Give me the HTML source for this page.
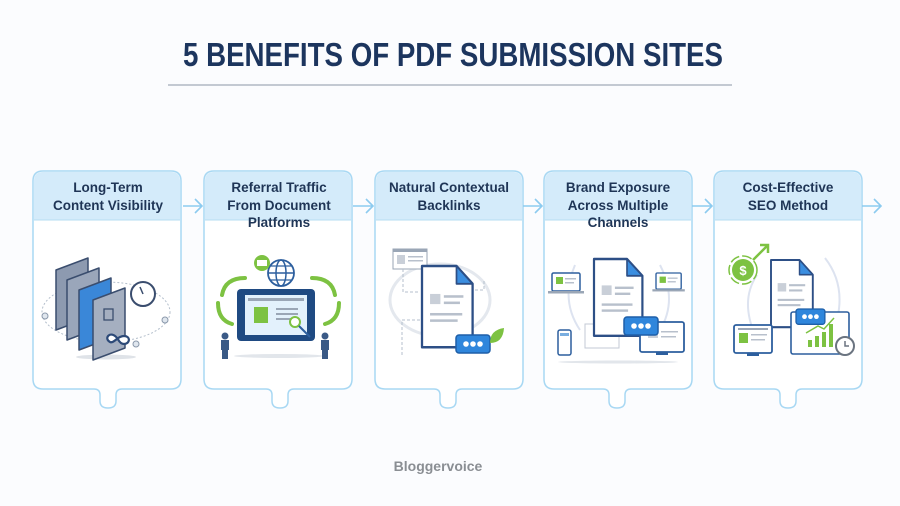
<!DOCTYPE html>
<html><head><meta charset="utf-8"><style>
html,body{margin:0;padding:0;background:#fbfcfe;}
svg{display:block;}
text{font-family:"Liberation Sans",sans-serif;}
</style></head><body>
<svg width="900" height="506" viewBox="0 0 900 506" xmlns="http://www.w3.org/2000/svg">
<rect width="900" height="506" fill="#fbfcfe"/>
<text x="453" y="66" text-anchor="middle" font-size="33" font-weight="bold" fill="#1c355e" textLength="540" lengthAdjust="spacingAndGlyphs">5 BENEFITS OF PDF SUBMISSION SITES</text>
<rect x="168" y="84" width="564" height="2" fill="#c3c9d2"/>

<defs>
<g id="doc">
<path d="M0,0 H30 L44,14 V64 H0 Z" fill="#fff" stroke="#2d4f86" stroke-width="2" stroke-linejoin="round"/>
<path d="M30,0 V14 H44 Z" fill="#3b8ee0" stroke="#2d4f86" stroke-width="1.5" stroke-linejoin="round"/>
<rect x="7" y="22" width="9" height="8" fill="#c9cfd8"/>
<rect x="19" y="23" width="17" height="2" fill="#b8c0cc"/><rect x="19" y="28" width="14" height="2" fill="#b8c0cc"/>
<rect x="7" y="37" width="28" height="2" fill="#b8c0cc"/><rect x="7" y="42" width="24" height="2" fill="#b8c0cc"/>
</g>
<g id="chat">
<rect x="0" y="0" width="34" height="18" rx="3" fill="#2f86dc" stroke="#1e5fa8" stroke-width="1.5"/>
<circle cx="10" cy="9" r="2.8" fill="#fff"/><circle cx="17" cy="9" r="2.8" fill="#fff"/><circle cx="24" cy="9" r="2.8" fill="#fff"/>
</g>
<g id="lap">
<rect x="0" y="0" width="28" height="18" rx="1.5" fill="#fff" stroke="#2d5f9e" stroke-width="1.5"/>
<rect x="4" y="4" width="7" height="7" fill="#7dc242"/>
<rect x="13" y="5" width="11" height="1.5" fill="#b8c0cc"/><rect x="13" y="9" width="9" height="1.5" fill="#b8c0cc"/>
<rect x="-4" y="18" width="36" height="2.5" fill="#9aa6b6"/>
</g>
</defs>

<!-- cards -->
<g fill="#fff" stroke="#a8d8f3" stroke-width="1.5">
<path d="M43,171 H171 Q181,171 181,181 V379 Q181,389 171,389 H122 Q116,389 116,395 V401 Q116,408 108,408 Q100,408 100,401 V395 Q100,389 94,389 H43 Q33,389 33,379 V181 Q33,171 43,171 Z"/>
<path d="M214,171 H342 Q352,171 352,181 V379 Q352,389 342,389 H294 Q288,389 288,395 V401 Q288,408 280,408 Q272,408 272,401 V395 Q272,389 266,389 H214 Q204,389 204,379 V181 Q204,171 214,171 Z"/>
<path d="M385,171 H513 Q523,171 523,181 V379 Q523,389 513,389 H462 Q456,389 456,395 V401 Q456,408 448,408 Q440,408 440,401 V395 Q440,389 434,389 H385 Q375,389 375,379 V181 Q375,171 385,171 Z"/>
<path d="M554,171 H682 Q692,171 692,181 V379 Q692,389 682,389 H631 Q625,389 625,395 V401 Q625,408 617,408 Q609,408 609,401 V395 Q609,389 603,389 H554 Q544,389 544,379 V181 Q544,171 554,171 Z"/>
<path d="M724,171 H852 Q862,171 862,181 V379 Q862,389 852,389 H802 Q796,389 796,395 V401 Q796,408 788,408 Q780,408 780,401 V395 Q780,389 774,389 H724 Q714,389 714,379 V181 Q714,171 724,171 Z"/>
</g>
<g fill="#d4ebfa" stroke="none">
<path d="M34,220 V181 Q34,172 43,172 H171 Q180,172 180,181 V220 Z"/>
<path d="M205,220 V181 Q205,172 214,172 H342 Q351,172 351,181 V220 Z"/>
<path d="M376,220 V181 Q376,172 385,172 H513 Q522,172 522,181 V220 Z"/>
<path d="M545,220 V181 Q545,172 554,172 H682 Q691,172 691,181 V220 Z"/>
<path d="M715,220 V181 Q715,172 724,172 H852 Q861,172 861,181 V220 Z"/>
</g>
<g stroke="#b6dcf2" stroke-width="1"><line x1="34" y1="220" x2="180" y2="220"/><line x1="205" y1="220" x2="351" y2="220"/><line x1="376" y1="220" x2="522" y2="220"/><line x1="545" y1="220" x2="691" y2="220"/><line x1="715" y1="220" x2="861" y2="220"/></g>

<!-- arrows -->
<g fill="none" stroke="#8ccbef" stroke-width="1.6">
<path d="M183,206 H201 M195,199 L202,206 L195,213"/>
<path d="M353,206 H372 M366,199 L373,206 L366,213"/>
<path d="M523,206 H541 M535,199 L542,206 L535,213"/>
<path d="M692,206 H711 M705,199 L712,206 L705,213"/>
<path d="M862,206 H880 M874,199 L881,206 L874,213"/>
</g>

<!-- header text -->
<g font-size="13.5" font-weight="bold" fill="#1f3556" text-anchor="middle">
<text x="108" y="192">Long-Term</text><text x="108" y="210">Content Visibility</text>
<text x="279" y="192">Referral Traffic</text><text x="279" y="210">From Document</text><text x="279" y="227">Platforms</text>
<text x="449" y="192">Natural Contextual</text><text x="449" y="210">Backlinks</text>
<text x="618" y="192">Brand Exposure</text><text x="618" y="210">Across Multiple</text><text x="618" y="227">Channels</text>
<text x="788" y="192">Cost-Effective</text><text x="788" y="210">SEO Method</text>
</g>

<!-- card1 icon -->
<ellipse cx="106" cy="312" rx="64" ry="30" fill="none" stroke="#b4bfcc" stroke-width="1" stroke-dasharray="2,2"/>
<ellipse cx="106" cy="357" rx="30" ry="2.5" fill="#dfe3e8"/>
<g stroke="#3a4d6e" stroke-width="1.5" stroke-linejoin="round">
<path d="M56,270 L88,258 V318 L56,330 Z" fill="#8d9ab0"/>
<path d="M67,280 L99,268 V328 L67,340 Z" fill="#9aa6ba"/>
<path d="M79,290 L111,278 V338 L79,350 Z" fill="#3a87d8"/>
<path d="M93,300 L125,288 V348 L93,360 Z" fill="#a5afc0"/>
</g>
<rect x="104" y="309" width="9" height="11" fill="none" stroke="#3a4d6e" stroke-width="1.3"/>
<path d="M117,338 c-6,-8 -14,0 -7,4 c4,2 7,-6 14,-6 c7,0 6,8 0,8 c-5,0 -6,-6 -7,-6" fill="#fff" stroke="#2d4a78" stroke-width="2.2"/>
<circle cx="143" cy="294" r="12" fill="#fff" stroke="#3a4d6e" stroke-width="2"/>
<line x1="143" y1="294" x2="140" y2="287" stroke="#3a4d6e" stroke-width="1.5"/>
<circle cx="45" cy="316" r="3" fill="#dfe6ee" stroke="#8a98aa"/><circle cx="165" cy="320" r="3" fill="#dfe6ee" stroke="#8a98aa"/><circle cx="136" cy="344" r="3" fill="#dfe6ee" stroke="#8a98aa"/>

<!-- card2 icon -->
<ellipse cx="279" cy="356" rx="45" ry="2" fill="#e2e6eb"/>
<rect x="237" y="289" width="78" height="52" rx="4" fill="#1f4a82"/>
<rect x="245" y="295" width="62" height="40" fill="#e3f1fc"/>
<rect x="248" y="298" width="56" height="3" fill="#9aa6b6"/>
<rect x="254" y="307" width="14" height="16" fill="#7dc242"/>
<rect x="276" y="308" width="22" height="2" fill="#9aa6b6"/><rect x="276" y="313" width="22" height="2" fill="#9aa6b6"/><rect x="276" y="318" width="18" height="2" fill="#9aa6b6"/>
<circle cx="295" cy="322" r="5" fill="#fff" stroke="#7dc242" stroke-width="2"/>
<line x1="299" y1="326" x2="310" y2="337" stroke="#2d5f9e" stroke-width="2"/>
<circle cx="281" cy="273" r="13" fill="#fff" stroke="#2d5f9e" stroke-width="1.8"/>
<ellipse cx="281" cy="273" rx="5" ry="13" fill="none" stroke="#2d5f9e" stroke-width="1.5"/>
<line x1="268" y1="273" x2="294" y2="273" stroke="#2d5f9e" stroke-width="1.5"/>
<line x1="270" y1="266" x2="292" y2="266" stroke="#2d5f9e" stroke-width="1.3"/>
<line x1="270" y1="280" x2="292" y2="280" stroke="#2d5f9e" stroke-width="1.3"/>
<circle cx="262" cy="263" r="8" fill="#7dc242"/><rect x="257" y="260" width="10" height="6" fill="#fff"/>
<g fill="none" stroke="#7dc242" stroke-width="4" stroke-linecap="round">
<path d="M245,278 Q225,278 222,295"/><path d="M218,303 Q218,320 232,324"/>
<path d="M312,278 Q332,278 335,295"/><path d="M339,303 Q339,320 325,324"/>
</g>
<g fill="#3a5a86"><circle cx="225" cy="336" r="3.5"/><rect x="221" y="340" width="8" height="10"/><rect x="222" y="350" width="6" height="9"/>
<circle cx="325" cy="336" r="3.5"/><rect x="321" y="340" width="8" height="10"/><rect x="322" y="350" width="6" height="9"/></g>

<!-- card3 icon -->
<ellipse cx="440" cy="300" rx="50" ry="36" fill="none" stroke="#e4e8ee" stroke-width="3"/>
<rect x="393" y="249" width="34" height="20" fill="#fff" stroke="#9aa6b6"/>
<rect x="393" y="249" width="34" height="3" fill="#9aa6b6"/>
<rect x="397" y="255" width="8" height="9" fill="#c9cfd8"/><rect x="408" y="256" width="15" height="1.5" fill="#b8c0cc"/><rect x="408" y="260" width="15" height="1.5" fill="#b8c0cc"/>
<path d="M403,269 V292 H420 M402,355 V320 H422 M470,290 H484 V280" fill="none" stroke="#b4bfcc" stroke-dasharray="3,2"/>
<g transform="translate(422,266) scale(1.15,1.27)"><use href="#doc"/></g>
<g transform="translate(456,335)"><use href="#chat"/></g>
<path d="M490,343 Q490,330 504,328 Q503,343 490,343 Z" fill="#7dc242"/>

<!-- card4 icon -->
<path d="M575,265 Q560,300 580,330 M660,265 Q678,300 660,330" fill="none" stroke="#dde3f0" stroke-width="2"/>
<g transform="translate(552,273)"><use href="#lap"/></g>
<g transform="translate(656,273) scale(0.9)"><use href="#lap"/></g>
<rect x="585" y="324" width="34" height="24" fill="#fff" stroke="#c3cad4"/>
<rect x="558" y="330" width="13" height="25" rx="2" fill="#fff" stroke="#2d5f9e" stroke-width="1.5"/>
<rect x="560" y="333" width="9" height="3" fill="#7aaee0"/>
<g transform="translate(594,259) scale(1.1,1.2)"><use href="#doc"/></g>
<rect x="640" y="322" width="44" height="30" rx="2" fill="#fff" stroke="#2d5f9e" stroke-width="1.8"/>
<rect x="656" y="352" width="12" height="3" fill="#2d5f9e"/>
<rect x="648" y="330" width="10" height="8" fill="#c9cfd8"/><rect x="661" y="331" width="17" height="1.5" fill="#b8c0cc"/><rect x="661" y="336" width="15" height="1.5" fill="#b8c0cc"/>
<g transform="translate(624,317)"><use href="#chat"/></g>
<ellipse cx="618" cy="362" rx="60" ry="1.5" fill="#e2e6eb"/>

<!-- card5 icon -->
<path d="M757,275 Q740,300 755,335 M825,258 Q850,290 832,335" fill="none" stroke="#dde3f0" stroke-width="2"/>
<circle cx="743" cy="270" r="11" fill="#7dc242"/>
<circle cx="743" cy="270" r="14" fill="none" stroke="#7dc242" stroke-width="1.5" stroke-dasharray="10,3"/>
<text x="743" y="275" text-anchor="middle" font-size="13" font-weight="bold" fill="#fff">$</text>
<path d="M753,260 L768,245 M760,245 H768 V253" fill="none" stroke="#7dc242" stroke-width="2.5"/>
<g transform="translate(771,260) scale(0.95,1.05)"><use href="#doc"/></g>
<rect x="734" y="325" width="38" height="28" rx="2" fill="#fff" stroke="#2d5f9e" stroke-width="1.8"/>
<rect x="738" y="328" width="30" height="2" fill="#9aa6b6"/>
<rect x="739" y="333" width="9" height="10" fill="#7dc242"/><rect x="751" y="334" width="16" height="1.5" fill="#b8c0cc"/><rect x="751" y="339" width="14" height="1.5" fill="#b8c0cc"/>
<rect x="747" y="353" width="12" height="3" fill="#2d5f9e"/>
<rect x="791" y="312" width="58" height="42" rx="2" fill="#fff" stroke="#2d5f9e" stroke-width="1.6"/>
<g fill="#7dc242"><rect x="808" y="340" width="4" height="7"/><rect x="815" y="336" width="4" height="11"/><rect x="822" y="332" width="4" height="15"/><rect x="829" y="324" width="4" height="23"/></g>
<path d="M806,333 L818,326 L824,329 L834,318" fill="none" stroke="#7dc242" stroke-width="1.5"/>
<g transform="translate(796,309) scale(0.85)"><use href="#chat"/></g>
<circle cx="845" cy="346" r="9" fill="#fff" stroke="#6b7480" stroke-width="2"/>
<path d="M845,341 V346 H849" fill="none" stroke="#6b7480" stroke-width="1.5"/>

<text x="438" y="471" text-anchor="middle" font-size="14" font-weight="bold" fill="#8a8e93">Bloggervoice</text>
</svg>
</body></html>
